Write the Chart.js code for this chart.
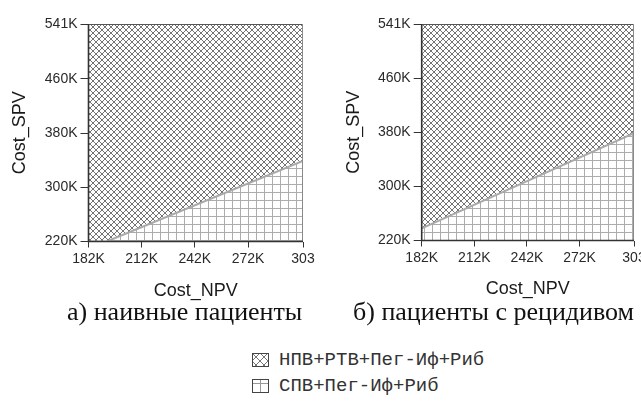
<!DOCTYPE html>
<html><head><meta charset="utf-8">
<script src="https://cdn.jsdelivr.net/npm/chart.js@4"></script>
<style>
html,body{margin:0;padding:0;background:#fff;overflow:hidden;width:641px;height:401px;}
#wrap{position:relative;width:641px;height:401px;overflow:hidden;}
#wrap > canvas{position:absolute;top:0;}
.cap{position:absolute;top:312px;font-family:"Liberation Serif","Times New Roman",serif;font-size:26px;color:#111;white-space:nowrap;transform:translateY(-50%);line-height:1;}
.leg{position:absolute;left:252px;height:20px;font-family:"Liberation Mono","Courier New",monospace;font-size:19px;color:#333;white-space:nowrap;display:flex;align-items:center;transform:translateY(-50%);}
.leg canvas{margin-right:10px;display:block;}
</style></head>
<body><div id="wrap">
<canvas id="c1" style="left:0px"></canvas>
<canvas id="c2" style="left:320px"></canvas>
<div class="cap" id="cap1" style="left:67px"></div>
<div class="cap" id="cap2" style="left:353px"></div>
<div class="leg" id="leg1" style="top:360px"><canvas id="i1" width="17" height="14"></canvas><span id="t1"></span></div>
<div class="leg" id="leg2" style="top:386px"><canvas id="i2" width="17" height="14"></canvas><span id="t2"></span></div>
</div>
<script>
// ---------- data ----------
const npvTicks = [182, 212, 242, 272, 303];
const npvTickLabels = ['182K', '212K', '242K', '272K', '303'];
const spvTicks = [220, 300, 380, 460, 541];
const spvTickLabels = ['220K', '300K', '380K', '460K', '541K'];
const naiveBoundaryNPV = [182, 192.3, 303];
const naiveBoundarySPV = [220, 220, 339];
const relapseBoundaryNPV = [182, 303];
const relapseBoundarySPV = [238, 379];
const strategies = ['НПВ+РТВ+Пег-Иф+Риб', 'СПВ+Пег-Иф+Риб'];
const captions = ['а) наивные пациенты', 'б) пациенты с рецидивом'];
const xTitle = 'Cost_NPV';
const yTitle = 'Cost_SPV';

// ---------- patterns ----------
function crossTile(size, color, lw) {
  const c = document.createElement('canvas');
  c.width = size; c.height = size;
  const g = c.getContext('2d');
  g.fillStyle = '#fff'; g.fillRect(0, 0, size, size);
  g.strokeStyle = color; g.lineWidth = lw;
  g.beginPath();
  for (const o of [-size, 0, size]) {
    g.moveTo(o - 1, -1); g.lineTo(o + size + 1, size + 1);
    g.moveTo(o + size + 1, -1); g.lineTo(o - 1, size + 1);
  }
  g.stroke();
  return c;
}
function gridTile(size, color) {
  const c = document.createElement('canvas');
  c.width = size; c.height = size;
  const g = c.getContext('2d');
  g.fillStyle = '#fff'; g.fillRect(0, 0, size, size);
  g.fillStyle = color;
  g.fillRect(0, 0, size, 1);
  g.fillRect(0, 0, 1, size);
  return c;
}
const tmp = document.createElement('canvas').getContext('2d');
const crossPat = tmp.createPattern(crossTile(6, '#747474', 1), 'repeat');
const gridPat = tmp.createPattern(gridTile(8, '#acacac'), 'repeat');

const frame = {
  id: 'frame',
  afterDatasetsDraw(chart) {
    const { ctx, chartArea: a } = chart;
    ctx.save();
    ctx.lineWidth = 1;
    ctx.strokeStyle = '#555';
    ctx.beginPath(); ctx.moveTo(a.left, a.top + 0.5); ctx.lineTo(a.right, a.top + 0.5); ctx.stroke();
    ctx.strokeStyle = '#8a8a8a';
    ctx.beginPath(); ctx.moveTo(a.right - 0.5, a.top); ctx.lineTo(a.right - 0.5, a.bottom); ctx.stroke();
    ctx.strokeStyle = '#333';
    ctx.lineWidth = 1.6;
    ctx.beginPath(); ctx.moveTo(a.left, a.top); ctx.lineTo(a.left, a.bottom); ctx.lineTo(a.right, a.bottom); ctx.stroke();
    ctx.restore();
  }
};

function makeChart(id, w, h, bNPV, bSPV, geo) {
  const cv = document.getElementById(id);
  cv.width = w; cv.height = h;
  const npvMin = npvTicks[0], npvMax = npvTicks[npvTicks.length - 1];
  const spvMin = spvTicks[0], spvMax = spvTicks[spvTicks.length - 1];
  return new Chart(cv, {
    type: 'line',
    data: {
      datasets: [
        {
          label: strategies[1],
          data: bNPV.map((x, i) => ({ x, y: bSPV[i] })),
          borderColor: '#a9a9a9', borderWidth: 2,
          pointRadius: 0, tension: 0,
          fill: 'start', backgroundColor: gridPat
        },
        {
          label: strategies[0],
          data: [{ x: npvMin, y: spvMax }, { x: npvMax, y: spvMax }],
          borderWidth: 0, borderColor: 'rgba(0,0,0,0)',
          pointRadius: 0,
          fill: 0, backgroundColor: crossPat
        }
      ]
    },
    options: {
      responsive: false, animation: false, devicePixelRatio: 1,
      layout: { padding: { left: 0, top: 24, right: geo.padRight, bottom: 0 } },
      plugins: { legend: { display: false }, tooltip: { enabled: false } },
      scales: {
        x: {
          type: 'linear', min: npvMin, max: npvMax,
          afterBuildTicks: s => { s.ticks = npvTicks.map(v => ({ value: v })); },
          afterFit: s => { s.height = geo.xHeight; },
          ticks: {
            callback: (v, i) => npvTickLabels[i],
            autoSkip: false, maxRotation: 0, padding: 3,
            color: '#2a2a2a', font: { family: 'Liberation Sans, Arial, sans-serif', size: 14 }
          },
          grid: { drawOnChartArea: false, drawTicks: true, tickLength: 6, color: '#333', lineWidth: 1 },
          border: { display: false },
          title: {
            display: true, text: xTitle, color: '#1a1a1a',
            font: { family: 'Liberation Sans, Arial, sans-serif', size: 18 },
            padding: { top: 0, bottom: geo.xTitlePad }
          }
        },
        y: {
          type: 'linear', min: spvMin, max: spvMax,
          afterBuildTicks: s => { s.ticks = spvTicks.map(v => ({ value: v })); },
          afterFit: s => { s.width = geo.yWidth; },
          ticks: {
            callback: (v, i) => spvTickLabels[i],
            autoSkip: false, padding: 3,
            color: '#2a2a2a', font: { family: 'Liberation Sans, Arial, sans-serif', size: 14 }
          },
          grid: { drawOnChartArea: false, drawTicks: true, tickLength: 8, color: '#333', lineWidth: 1 },
          border: { display: false },
          title: {
            display: true, text: yTitle, color: '#1a1a1a',
            font: { family: 'Liberation Sans, Arial, sans-serif', size: 18 },
            padding: { top: geo.yTitlePad, bottom: 0 }
          }
        }
      }
    },
    plugins: [frame]
  });
}

makeChart('c1', 320, 320, naiveBoundaryNPV, naiveBoundarySPV,
  { padRight: 17, xHeight: 78.5, yWidth: 88.5, xTitlePad: 18, yTitlePad: 9 });
makeChart('c2', 340, 320, relapseBoundaryNPV, relapseBoundarySPV,
  { padRight: 26, xHeight: 79.5, yWidth: 101.7, xTitlePad: 20, yTitlePad: 23 });

document.getElementById('cap1').textContent = captions[0];
document.getElementById('cap2').textContent = captions[1];
document.getElementById('t1').textContent = strategies[0];
document.getElementById('t2').textContent = strategies[1];

// legend icons
(function () {
  const g1 = document.getElementById('i1').getContext('2d');
  g1.fillStyle = g1.createPattern(crossTile(8, '#777', 1), 'repeat');
  g1.fillRect(0, 0, 17, 14);
  g1.strokeStyle = '#444'; g1.lineWidth = 1; g1.strokeRect(0.5, 0.5, 16, 13);
  const g2 = document.getElementById('i2').getContext('2d');
  g2.fillStyle = '#fff'; g2.fillRect(0, 0, 17, 14);
  g2.fillStyle = '#999';
  g2.fillRect(8, 0, 1, 14);
  g2.fillRect(0, 4, 17, 1);
  g2.strokeStyle = '#444'; g2.lineWidth = 1; g2.strokeRect(0.5, 0.5, 16, 13);
})();
</script>
</body></html>
